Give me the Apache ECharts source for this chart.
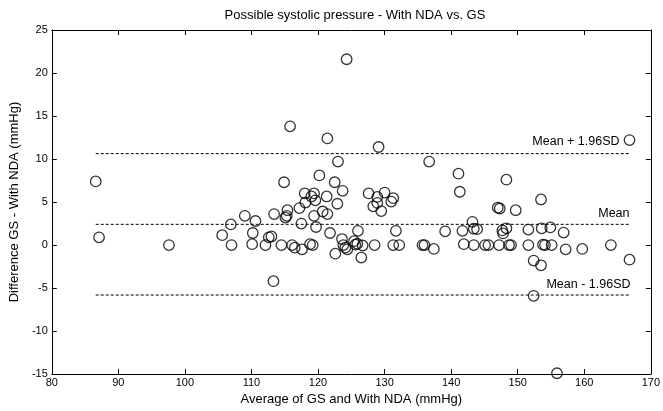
<!DOCTYPE html>
<html>
<head>
<meta charset="utf-8">
<script src="https://cdn.jsdelivr.net/npm/echarts@6/dist/echarts.min.js"></script>
<style>html,body{margin:0;padding:0;background:#fff}#c{width:663px;height:411px}</style>
</head>
<body>
<div id="c"></div>
<script>
// Bland-Altman data: average (x) and difference (y)
const avgValues = [86.6,87.1,97.6,105.6,106.9,107.0,109.0,110.6,110.2,110.1,112.1,112.6,113.0,113.4,113.3,114.5,114.9,115.4,115.3,115.1,115.8,116.1,116.5,117.6,117.2,117.5,118.0,118.1,119.0,119.4,119.6,119.4,119.7,118.8,119.2,120.2,120.7,121.4,121.3,121.8,121.4,122.5,122.9,123.0,123.7,123.6,123.8,124.1,124.4,122.6,124.3,126.0,125.4,125.6,125.9,126.7,126.5,127.6,128.3,128.9,129.5,128.9,130.0,131.3,131.0,129.1,128.5,131.7,131.3,132.2,135.7,136.0,137.4,136.7,139.1,141.1,141.3,141.7,141.9,143.2,143.4,143.9,143.4,145.1,145.6,147.0,147.3,147.2,147.7,147.8,148.3,148.3,148.7,149.0,149.7,151.6,151.6,152.4,152.4,153.5,153.6,153.5,153.8,154.1,154.9,155.1,155.9,156.9,157.2,159.7,164.0,166.8,166.8];
const diffValues = [7.4,0.9,0.0,1.15,2.4,0.0,3.4,2.8,1.4,0.1,0.0,0.9,1.0,3.6,-4.2,0.0,7.3,4.05,3.4,3.2,13.8,0.0,-0.3,-0.5,4.3,2.5,6.0,4.95,5.65,6.0,5.2,3.4,2.1,0.1,0.0,8.1,3.9,3.6,5.65,1.4,12.4,7.3,4.8,9.7,6.3,0.7,0.0,-0.3,-0.5,-1.0,21.6,1.65,0.45,0.05,0.15,-0.05,-1.45,6.0,4.5,4.9,3.95,5.6,6.1,5.45,5.05,11.4,0.0,1.65,0.0,0.0,0.0,0.0,-0.45,9.7,1.6,8.3,6.2,1.65,0.1,2.7,1.9,1.85,0.0,0.0,0.0,4.35,4.25,0.0,1.7,1.35,1.95,7.6,0.0,0.0,4.05,1.8,0.0,-1.8,-5.9,5.3,1.95,-2.35,0.05,0.0,2.05,0.0,-14.9,1.45,-0.5,-0.45,0.0,12.2,-1.7];
const refValues = [10.63, 2.41, -5.81];
const refLabels = ['Mean + 1.96SD', 'Mean', 'Mean - 1.96SD'];
const xTicks = {min: 80, max: 170, interval: 10};
const yTicks = {min: -15, max: 25, interval: 5};

const points = avgValues.map((x, i) => [x, diffValues[i]]);
const xMin = Math.min(...avgValues), xMax = Math.max(...avgValues);
const labelOffsets = [[-10, 0], [0, 1], [1, 2]];

const font = 'Liberation Sans, Arial, sans-serif';
const axisCommon = {
  axisLine: {show: true, onZero: false, lineStyle: {color: '#000', width: 1}},
  axisTick: {show: true, inside: true, length: 5, lineStyle: {color: '#000'}},
  splitLine: {show: false}
};

const refSeries = refValues.map((v, i) => ({
  type: 'line',
  data: [
    {value: [xMin, v], label: {show: false}},
    {value: [xMax, v], label: {
      show: true, position: 'top', align: 'right', offset: labelOffsets[i],
      formatter: refLabels[i], color: '#000', fontSize: 12.5, fontFamily: font
    }}
  ],
  symbol: 'circle', symbolSize: 1, showSymbol: true, silent: true,
  itemStyle: {color: 'rgba(0,0,0,0)'},
  lineStyle: {color: '#000', width: 1, type: [3, 2]},
  z: 1
}));

const chart = echarts.init(document.getElementById('c'), null, {renderer: 'canvas'});
chart.setOption({
  animation: false,
  backgroundColor: '#fff',
  title: {
    text: 'Possible systolic pressure - With NDA vs. GS',
    left: 350, top: 4, textAlign: 'center',
    textStyle: {fontSize: 13, fontWeight: 'normal', color: '#000', fontFamily: font}
  },
  grid: {left: 46, right: 9, top: 30, bottom: 33},
  xAxis: [
    Object.assign({}, axisCommon, {
      type: 'value', min: xTicks.min, max: xTicks.max, interval: xTicks.interval,
      position: 'bottom',
      name: 'Average of GS and With NDA (mmHg)', nameLocation: 'middle', nameGap: 14,
      nameTextStyle: {fontSize: 13, color: '#000', fontFamily: font},
      axisLabel: {color: '#000', fontSize: 11, fontFamily: font, margin: 3}
    }),
    Object.assign({}, axisCommon, {
      type: 'value', min: xTicks.min, max: xTicks.max, interval: xTicks.interval,
      position: 'top', axisLabel: {show: false}
    })
  ],
  yAxis: [
    Object.assign({}, axisCommon, {
      type: 'value', min: yTicks.min, max: yTicks.max, interval: yTicks.interval,
      position: 'left',
      name: 'Difference GS - With NDA (mmHg)', nameLocation: 'middle', nameGap: 27,
      nameTextStyle: {fontSize: 13, color: '#000', fontFamily: font},
      axisLabel: {color: '#000', fontSize: 11, fontFamily: font, margin: 4}
    }),
    Object.assign({}, axisCommon, {
      type: 'value', min: yTicks.min, max: yTicks.max, interval: yTicks.interval,
      position: 'right', axisLabel: {show: false}
    })
  ],
  series: refSeries.concat([{
    type: 'scatter',
    data: points,
    symbol: 'circle',
    symbolSize: 10.5,
    itemStyle: {color: 'rgba(0,0,0,0)', borderColor: '#000', borderWidth: 1.3},
    z: 3
  }])
});
</script>
</body>
</html>
